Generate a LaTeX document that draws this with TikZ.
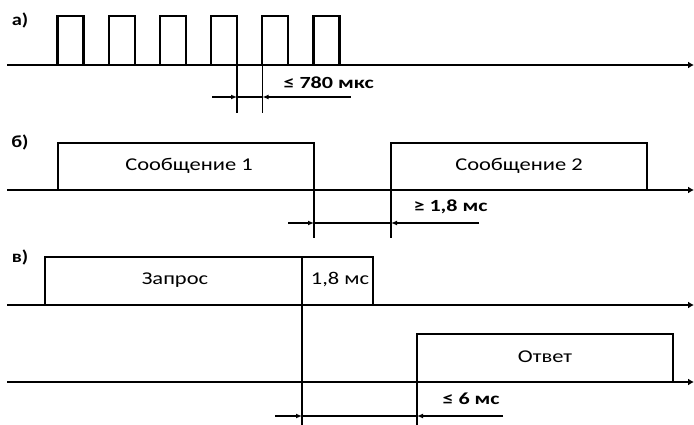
\documentclass[tikz,border=0pt]{standalone}
\usepackage{fontspec}
\setmainfont{Carlito}
\usetikzlibrary{arrows.meta}
\newcommand{\widetxt}[2][1.25]{\scalebox{#1}[1]{#2}}
\tikzset{
  sigbox/.style   = {line width=2.2pt},
  axisline/.style = {-{Latex[length=6pt,width=7pt]},line width=1.8pt},
  dimarr/.style   = {-{Latex[length=6pt,width=5pt]},line width=1.6pt},
  extline/.style  = {line width=1.6pt},
  boxtext/.style  = {font=\fontsize{18}{20}\selectfont},
  dimtext/.style  = {font=\bfseries\fontsize{17}{19}\selectfont,anchor=west},
  panellbl/.style = {font=\bfseries\fontsize{17}{19}\selectfont}
}

\begin{document}
\begin{tikzpicture}[x=1pt,y=-1pt]
  \useasboundingbox (0,0) rectangle (694,425);

  % --- а) pulse train
  \node[panellbl] (pa) at (20,20) {\widetxt[1.2]{а)}};
  \draw[axisline] (7,65) -- (694,65);
  \foreach \i in {0,...,5}
    \draw[sigbox] (57.5+51.2*\i,65) -- ++(0,-49) -- ++(26,0) -- ++(0,49);
  \coordinate (a1) at (237,97);
  \coordinate (a2) at (262.5,97);
  \draw[extline] (237,65) -- (237,113);
  \draw[extline] (262.5,65) -- (262.5,113);
  \draw[extline] (a1) -- (a2);
  \draw[dimarr] ([xshift=-25pt]a1) -- (a1);
  \draw[dimarr] ([xshift=88pt]a2) -- (a2);
  \node[dimtext] (ta) at (280,83) {\widetxt[1.3]{≤ 780 мкс}};

  % --- б) two messages
  \node[panellbl] (pb) at (20,142) {\widetxt[1.2]{б)}};
  \draw[axisline] (7,190) -- (694,190);
  \draw[sigbox] (58,190) |- (314,143) -- (314,190);
  \draw[sigbox] (391,190) |- (647,143) -- (647,190);
  \node[boxtext] (m1) at (189,166) {\widetxt{Сообщение 1}};
  \node[boxtext] (m2) at (519,166) {\widetxt{Сообщение 2}};
  \coordinate (b1) at (314,223);
  \coordinate (b2) at (391,223);
  \draw[extline] (314,190) -- (314,238);
  \draw[extline] (391,190) -- (391,238);
  \draw[extline] (b1) -- (b2);
  \draw[dimarr] ([xshift=-26pt]b1) -- (b1);
  \draw[dimarr] ([xshift=88pt]b2) -- (b2);
  \node[dimtext] (tb) at (410,207) {\widetxt[1.3]{≥ 1,8 мс}};

  % --- в) request / answer
  \node[panellbl] (pc) at (20,257) {\widetxt[1.2]{в)}};
  \draw[axisline] (7,305) -- (694,305);
  \draw[sigbox] (45,305) |- (373,257) -- (373,305);
  \node[boxtext] (rq) at (175,280) {\widetxt{Запрос}};
  \node[boxtext] (dl) at (340,280) {\widetxt{1,8 мс}};
  \draw[axisline] (7,382) -- (694,382);
  \draw[sigbox] (417,382) |- (673,334) -- (673,382);
  \node[boxtext] (an) at (545,357) {\widetxt{Ответ}};
  \coordinate (c1) at (302,416);
  \coordinate (c2) at (417,416);
  \draw[extline] (302,257) -- (302,425);
  \draw[extline] (417,382) -- (417,425);
  \draw[extline] (c1) -- (c2);
  \draw[dimarr] ([xshift=-27pt]c1) -- (c1);
  \draw[dimarr] ([xshift=86pt]c2) -- (c2);
  \node[dimtext] (tc) at (439,399) {\widetxt[1.3]{≤ 6 мс}};
\end{tikzpicture}
\end{document}
